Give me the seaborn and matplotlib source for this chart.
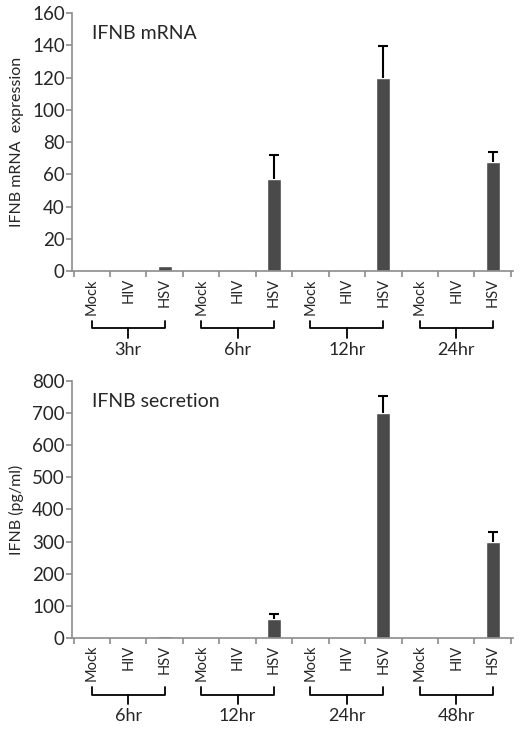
import numpy as np
import pandas as pd
import matplotlib
matplotlib.use('Agg')
import matplotlib.pyplot as plt
import seaborn as sns

# Data
viruses = ['Mock', 'HIV', 'HSV']

mrna_times = ['3hr', '6hr', '12hr', '24hr']
mrna_values = [0.3, 0.3, 3, 0.3, 0.3, 57, 0.3, 0.3, 120, 0.3, 0.3, 68]
mrna_errors = [0, 0, 0, 0, 0, 15, 0, 0, 19.5, 0, 0, 6]

secr_times = ['6hr', '12hr', '24hr', '48hr']
secr_values = [1.2, 1.2, 5, 1.2, 1.2, 57, 1.2, 1.2, 700, 1.2, 1.2, 300]
secr_errors = [0, 0, 0, 0, 0, 16, 0, 0, 53, 0, 0, 31]

sns.set_style('white')
plt.rcParams['font.family'] = ['Lato', 'DejaVu Sans']

bar_color = '#4a4a4a'
axis_color = '#8c8c8c'


def draw_panel(ax, times, values, errors, ymax, ystep, ylabel, title):
    keys = [f'{t} {v}' for t in times for v in viruses]
    df = pd.DataFrame({'cond': keys, 'value': values})
    sns.barplot(data=df, x='cond', y='value', order=keys, color=bar_color,
                width=0.38, saturation=1, errorbar=None, ax=ax)

    # upper-only error bars
    pos = np.arange(len(keys))
    vals = np.array(values)
    errs = np.array(errors)
    has = errs > 0
    ax.vlines(pos[has], vals[has], vals[has] + errs[has], color='black', lw=1.5)
    ax.plot(pos[has], vals[has] + errs[has], ls='none', marker='_',
            ms=7, mew=1.5, color='black')

    ax.set_ylim(0, ymax)
    ax.set_yticks(np.arange(0, ymax + 1, ystep))
    ax.set_xlim(-0.55, len(keys) - 0.45)
    ax.set_xlabel('')
    ax.set_ylabel(ylabel, fontsize=11.5, labelpad=6)

    for side in ['top', 'right']:
        ax.spines[side].set_visible(False)
    for side in ['left', 'bottom']:
        ax.spines[side].set_color(axis_color)
        ax.spines[side].set_linewidth(1.2)

    ax.tick_params(axis='y', which='major', direction='out', length=4,
                   color=axis_color, width=1.2, labelsize=13.5, pad=1, left=True)
    ax.set_xticks(pos)
    ax.set_xticklabels([v for t in times for v in viruses], rotation=90,
                       fontsize=10.5, va='top')
    ax.tick_params(axis='x', which='major', length=0, pad=5)
    ax.set_xticks(np.arange(-0.5, len(keys), 1.0), minor=True)
    ax.tick_params(axis='x', which='minor', direction='out', length=4,
                   color=axis_color, width=1.2, bottom=True)

    ax.text(0.045, 0.92, title, transform=ax.transAxes, fontsize=14,
            ha='left', va='center')

    # brackets grouping the time points
    trans = ax.get_xaxis_transform()
    for i, t in enumerate(times):
        x0, x1 = 3 * i, 3 * i + 2
        xm = 3 * i + 1
        ax.plot([x0, x0, x1, x1], [-0.192, -0.222, -0.222, -0.192], color='black',
                lw=1.3, transform=trans, clip_on=False)
        ax.plot([xm, xm], [-0.222, -0.257], color='black', lw=1.3,
                transform=trans, clip_on=False)
        ax.text(xm, -0.307, t, transform=trans, ha='center', va='center',
                fontsize=13)


fig = plt.figure(figsize=(5.2, 7.33), dpi=100)
ax1 = fig.add_axes([0.138, 0.630, 0.848, 0.352])
ax2 = fig.add_axes([0.138, 0.130, 0.848, 0.350])

draw_panel(ax1, mrna_times, mrna_values, mrna_errors, 160, 20,
           'IFNB mRNA  expression', 'IFNB mRNA')
draw_panel(ax2, secr_times, secr_values, secr_errors, 800, 100,
           'IFNB (pg/ml)', 'IFNB secretion')

fig.savefig('out.png', dpi=100)
